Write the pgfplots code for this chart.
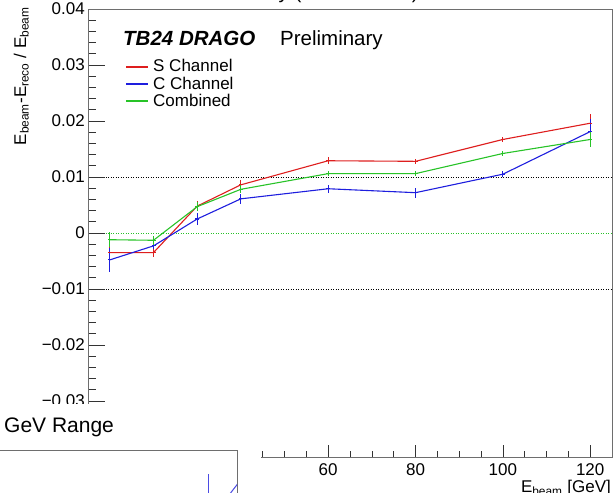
\documentclass[border=0pt]{standalone}
\usepackage{pgfplots}
\pgfplotsset{compat=1.18}
\usepackage{fontspec}
\setmainfont{Liberation Sans}

\definecolor{sred}{RGB}{222,30,30}
\definecolor{cblue}{RGB}{30,30,222}
\definecolor{cgreen}{RGB}{40,195,40}
\definecolor{frame}{RGB}{110,110,110}

\newcommand{\ticksize}{\fontsize{17bp}{20bp}\selectfont}
\newcommand{\headsize}{\fontsize{20.5bp}{24bp}\selectfont}

% E_beam [GeV], (E_beam - E_reco)/E_beam, uncertainty
\pgfplotstableread{
x    y        e
10  -0.0035  0.0010
20  -0.0035  0.0008
30   0.0048  0.0009
40   0.0086  0.0008
60   0.0129  0.0006
80   0.0128  0.0005
100  0.0167  0.0004
120  0.0196  0.0016
}\schan
\pgfplotstableread{
x    y        e
10  -0.0048  0.0021
20  -0.0023  0.0006
30   0.0025  0.0010
40   0.0061  0.0009
60   0.0079  0.0007
80   0.0072  0.0009
100  0.0105  0.0005
120  0.0181  0.0022
}\cchan
\pgfplotstableread{
x    y        e
10  -0.0012  0.0013
20  -0.0013  0.0008
30   0.0047  0.0008
40   0.0078  0.0007
60   0.0106  0.0005
80   0.0106  0.0004
100  0.0142  0.0004
120  0.0167  0.0013
}\comb

\pgfplotsset{
  series/.style={color=#1, line width=1.1bp, mark=-, mark size=2bp,
    mark options={solid, #1, line width=1.1bp},
    error bars/.cd, y dir=both, y explicit, error mark=none,
    error bar style={#1, line width=1.1bp}},
  pad/.style={scale only axis, anchor=south west,
    axis line style={frame, line width=0.8bp}},
}

\begin{document}
\begin{tikzpicture}[x=1bp,y=1bp]
% main pad: data and the energy axis
\begin{axis}[
  pad, at={(88bp,36bp)}, width=524bp, height=448bp,
  xmin=5, xmax=125, ymin=-0.04, ymax=0.04,
  xtick={20,40,60,80,100,120}, xticklabels={20,40,60,80,100,120},
  minor x tick num=3, ytick=\empty,
  xtick pos=left, tick align=inside,
  major tick length=12bp, minor tick length=6bp,
  tick style={black!80, line width=0.6bp},
  xticklabel style={font=\ticksize, anchor=north, inner sep=0pt, yshift=-6bp},
]
\addplot[black, line width=0.7bp, dash pattern=on 1bp off 1.5bp] coordinates {(5,0.01) (125,0.01)};
\addplot[black, line width=0.7bp, dash pattern=on 1bp off 1.5bp] coordinates {(5,-0.01) (125,-0.01)};
\addplot[cgreen, line width=0.7bp, dash pattern=on 1bp off 1.5bp] coordinates {(5,0) (125,0)};
\addplot[series=sred]   table[x=x, y=y, y error=e] {\schan};
\addplot[series=cblue]  table[x=x, y=y, y error=e] {\cchan};
\addplot[series=cgreen] table[x=x, y=y, y error=e] {\comb};
\end{axis}
% main pad: the relative-difference axis
\begin{axis}[
  pad, at={(88bp,36bp)}, width=524bp, height=448bp,
  xmin=5, xmax=125, ymin=-0.04, ymax=0.04,
  xtick=\empty,
  ytick={-0.04,-0.03,-0.02,-0.01,0,0.01,0.02,0.03,0.04},
  yticklabels={−0.04,−0.03,−0.02,−0.01,0,0.01,0.02,0.03,0.04},
  minor y tick num=4,
  ytick pos=left, tick align=inside,
  major tick length=17bp, minor tick length=8bp,
  tick style={black!80, line width=0.6bp},
  yticklabel style={font=\ticksize, anchor=east, inner sep=0pt, xshift=-3bp},
]
\end{axis}

% titles and legend
\node[anchor=base east, inner sep=0pt, font=\headsize] at (419,494.5) {Linearity (10-120 GeV)};
\node[rotate=90, anchor=base east, inner sep=0pt, font=\ticksize] at (26,486)
  {E\textsubscript{beam}-E\textsubscript{reco} / E\textsubscript{beam}};
\node[anchor=base east, inner sep=0pt, font=\ticksize] at (611,0) {E\textsubscript{beam} [GeV]};

\node[anchor=base west, inner sep=0pt, font=\headsize\bfseries\itshape] at (123,447) {TB24 DRAGO};
\node[anchor=base west, inner sep=0pt, font=\headsize] at (280,447) {Preliminary};
\draw[sred, line width=1.1bp]   (126,426) -- (148,426);
\draw[cblue, line width=1.1bp]  (126,409) -- (148,409);
\draw[cgreen, line width=1.1bp] (126,392) -- (148,392);
\node[anchor=base west, inner sep=0pt, font=\ticksize] at (153,421.3) {S Channel};
\node[anchor=base west, inner sep=0pt, font=\ticksize] at (153,403.7) {C Channel};
\node[anchor=base west, inner sep=0pt, font=\ticksize] at (153,386.3) {Combined};

% lower-left pad lying on top of the main one
\fill[white] (0,0) rectangle (261,89);
\node[anchor=base west, inner sep=0pt, font=\fontsize{21bp}{24bp}\selectfont] at (4,60) {GeV Range};
\begin{axis}[
  pad, at={(-20bp,-60bp)}, width=257bp, height=103bp,
  xmin=-20, xmax=237, ymin=-60, ymax=43,
  xtick=\empty, ytick=\empty,
]
\addplot[cblue!80, line width=1bp, error bars/.cd, y dir=both, y explicit, error mark=none,
  error bar style={cblue!80, line width=1bp}]
  coordinates {(208,-29) +- (0,48) (250,25) +- (0,0)};
\end{axis}

\pgfresetboundingbox
\path[use as bounding box] (0,0) rectangle (616,493);
\end{tikzpicture}
\end{document}
